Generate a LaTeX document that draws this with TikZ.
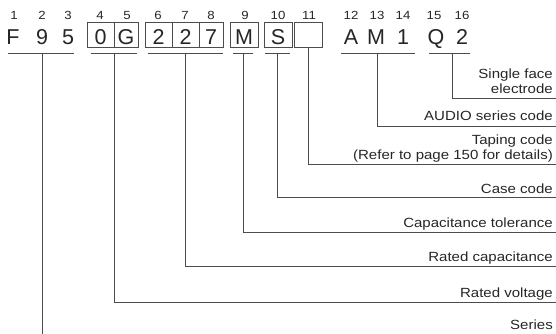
\documentclass[tikz,border=0pt]{standalone}
\usepackage{fontspec}
\setmainfont{Liberation Sans}
\newfontfamily\labfont[FakeStretch=1.13]{Liberation Sans}
\newfontfamily\numfont[FakeStretch=1.12]{Liberation Sans}
\begin{document}
\begin{tikzpicture}[x=1pt,y=-1pt,
  big/.style={font=\fontsize{21.5}{21.5}\selectfont, text=black!85, inner sep=0pt, anchor=base},
  num/.style={font=\numfont\fontsize{11.8}{12}\selectfont, text=black!85, inner sep=0pt, anchor=base},
  cbox/.style={draw=black!70, line width=0.8pt, inner sep=0pt, minimum height=25pt},
  lab/.style={font=\labfont\fontsize{13.3}{15}\selectfont, text=black!85, inner sep=0pt, anchor=base east, align=right},
  ln/.style={draw=black!70, line width=0.8pt}]
\useasboundingbox (0,0) rectangle (556,334);
% boxes
\node[cbox, minimum width=27pt] (b4) at (100.5,34.5) {};
\node[cbox, minimum width=24pt] (b5) at (126,34.5) {};
\node[cbox, minimum width=27pt] (b6) at (158.5,34.5) {};
\node[cbox, minimum width=27pt] (b7) at (185.5,34.5) {};
\node[cbox, minimum width=24pt] (b8) at (211,34.5) {};
\node[cbox, minimum width=28pt] (b9) at (244,34.5) {};
\node[cbox, minimum width=28pt] (b10) at (278,34.5) {};
\node[cbox, minimum width=28pt] (b11) at (308,34.5) {};
% position numbers
\foreach \n/\x in {1/14,2/42,3/68,4/100,5/127,6/158,7/185,8/211,9/245,10/278,11/309,12/351,13/377,14/403,15/434,16/462}
  \node[num] (n\n) at (\x,20) {\n};
% characters
\node[big] (c1) at (13,45) {F};
\node[big] (c2) at (42,45) {9};
\node[big] (c3) at (68,45) {5};
\node[big] (c4) at (100.5,45) {0};
\node[big] (c5) at (126,45) {G};
\node[big] (c6) at (158.5,45) {2};
\node[big] (c7) at (185.5,45) {2};
\node[big] (c8) at (211,45) {7};
\node[big] (c9) at (244,45) {M};
\node[big] (c10) at (278,45) {S};
\node[big] (c12) at (351,45) {A};
\node[big] (c13) at (376,45) {M};
\node[big] (c14) at (403,45) {1};
\node[big] (c15) at (436,45) {Q};
\node[big] (c16) at (462,45) {2};
% underlines
\coordinate (u1a) at (8,53);   \coordinate (u1b) at (74,53);   \coordinate (u1) at (42,53);
\coordinate (u2a) at (91,53);  \coordinate (u2b) at (137,53);  \coordinate (u2) at (114,53);
\coordinate (u3a) at (148,53); \coordinate (u3b) at (223,53);  \coordinate (u3) at (185,53);
\coordinate (u4a) at (233,53); \coordinate (u4b) at (253,53);  \coordinate (u4) at (243,53);
\coordinate (u5a) at (265,53); \coordinate (u5b) at (290,53);  \coordinate (u5) at (277,53);
\coordinate (u7a) at (341,53); \coordinate (u7b) at (415,53);  \coordinate (u7) at (377,53);
\coordinate (u8a) at (429,53); \coordinate (u8b) at (470,53);  \coordinate (u8) at (452,53);
\foreach \u in {1,2,3,4,5,7,8} \draw[ln] (u\u a) -- (u\u b);
% right ends
\coordinate (e8) at (556,98);
\coordinate (e7) at (556,126);
\coordinate (e6) at (556,164);
\coordinate (e5) at (556,197);
\coordinate (e4) at (556,232);
\coordinate (e3) at (556,266);
\coordinate (e2) at (556,302);
\coordinate (e1) at (42,334);
% connectors
\draw[ln] (u8) |- (e8);
\draw[ln] (u7) |- (e7);
\draw[ln] (b11.south) |- (e6);
\draw[ln] (u5) |- (e5);
\draw[ln] (u4) |- (e4);
\draw[ln] (u3) |- (e3);
\draw[ln] (u2) |- (e2);
\draw[ln] (u1) -- (e1);
% labels
\node[lab] (l8) at (553,78.5) {Single face};
\node[lab] (l8b) at (553,93.5) {electrode};
\node[lab] (l7) at (553,121) {AUDIO series code};
\node[lab] (l6) at (553,144.5) {Taping code};
\node[lab] (l6b) at (553,159.5) {(Refer to page 150 for details)};
\node[lab] (l5) at (553,193) {Case code};
\node[lab] (l4) at (553,227.5) {Capacitance tolerance};
\node[lab] (l3) at (553,261.5) {Rated capacitance};
\node[lab] (l2) at (553,297) {Rated voltage};
\node[lab] (l1) at (553,329) {Series};
\end{tikzpicture}
\end{document}
